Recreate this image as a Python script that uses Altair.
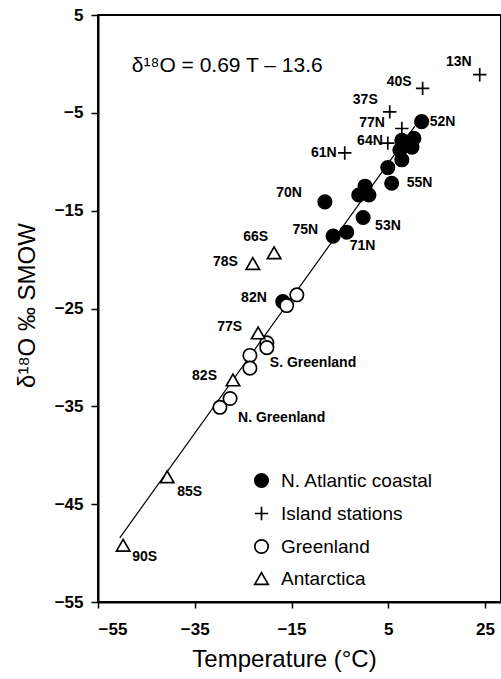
import altair as alt
import pandas as pd

# ---- data ----
atl_T = [11.9, 7.8, 10.3, 9.9, 7.4, 7.8, 4.9, 5.7, 0.2, -1.1, 1.0, -8.1, -0.2, -6.4, -3.6, -16.8]
atl_d = [-5.9, -7.8, -7.6, -8.5, -8.8, -9.8, -10.6, -12.2, -12.5, -13.4, -13.4, -14.1, -15.7, -17.6, -17.2, -24.3]
atl_lab = ["52N", "", "", "", "", "", "", "55N", "", "", "", "70N", "53N", "75N", "71N", "82N"]

isl_T = [23.9, 12.1, 5.3, 7.8, 4.9, -4.0]
isl_d = [-1.1, -2.5, -4.9, -6.6, -8.1, -9.1]
isl_lab = ["13N", "40S", "37S", "77N", "64N", "61N"]

grn_T = [-13.9, -16.0, -20.1, -20.1, -23.6, -23.6, -27.7, -29.8]
grn_d = [-23.6, -24.7, -28.5, -29.0, -29.8, -31.1, -34.2, -35.1]
grn_lab = ["", "", "", "S. Greenland", "", "", "N. Greenland", ""]

ant_T = [-18.6, -23.0, -21.9, -27.1, -40.7, -49.8]
ant_d = [-19.3, -20.4, -27.5, -32.3, -42.2, -49.2]
ant_lab = ["66S", "78S", "77S", "82S", "85S", "90S"]

groups = ["N. Atlantic coastal", "Island stations", "Greenland", "Antarctica"]

# regression shown in the figure
slope, intercept = 0.69, -13.6
fit_T_range = [-50.5, 10.5]
equation = "δ¹⁸O = 0.69 T – 13.6"
equation_pos = [-48.0, -0.2]

x_ticks = [-55, -35, -15, 5, 25]
y_ticks = [5, -5, -15, -25, -35, -45, -55]

# label placement (style): align, dx, dy
label_style = {
    "13N": ("right", -8, -13), "40S": ("right", -11, -6), "37S": ("right", -12, -12),
    "77N": ("right", -17, -5), "64N": ("right", -5, -2), "61N": ("right", -8, 0),
    "70N": ("right", -23, -9), "75N": ("right", -15, -6), "66S": ("right", -6, -16),
    "78S": ("right", -15, -1), "82N": ("right", -16, -4), "77S": ("right", -16, -6),
    "82S": ("right", -16, -4), "52N": ("left", 8, 0), "55N": ("left", 15, 0),
    "53N": ("left", 12, 8), "71N": ("left", 3, 14), "85S": ("left", 10, 15),
    "90S": ("left", 9, 12), "S. Greenland": ("left", 3, 15), "N. Greenland": ("left", 8, 19),
}

rows = []
for g, Ts, ds, ls in [(groups[0], atl_T, atl_d, atl_lab), (groups[1], isl_T, isl_d, isl_lab),
                      (groups[2], grn_T, grn_d, grn_lab), (groups[3], ant_T, ant_d, ant_lab)]:
    for t, d, l in zip(Ts, ds, ls):
        rows.append({"group": g, "T": t, "d": d, "label": l})
df = pd.DataFrame(rows)

FONT = "Liberation Sans"
xs = alt.Scale(domain=[-55, 28.3], nice=False, zero=False)
ys = alt.Scale(domain=[-55, 5], nice=False, zero=False)

x_enc = alt.X("T:Q", scale=xs, axis=alt.Axis(
    values=x_ticks, title="Temperature (°C)", grid=False, labelFontSize=17, labelFontWeight="bold",
    labelPadding=13, titleFontSize=24, titleFontWeight="normal", titleX=186, titleY=57,
    titleAlign="center", titleBaseline="middle", tickSize=6))
y_enc = alt.Y("d:Q", scale=ys, axis=alt.Axis(
    values=y_ticks, title="δ¹⁸O ‰ SMOW", grid=False, labelFontSize=17, labelFontWeight="bold",
    labelPadding=8, titleFontSize=24, titleFontWeight="normal", titleX=-71, titleY=290,
    titleAlign="center", titleBaseline="middle", tickSize=7))

plus_path = "M-1,0H1M0,-1V1"
leg = alt.Legend(title=None, orient="none", legendX=154, legendY=456)
points = alt.Chart(df).mark_point(strokeWidth=1.7, opacity=1, fillOpacity=1, strokeOpacity=1, size=180).encode(
    x=x_enc, y=y_enc,
    shape=alt.Shape("group:N", scale=alt.Scale(domain=groups, range=["circle", plus_path, "circle", "triangle-up"]),
                    legend=leg),
    fill=alt.Fill("group:N", scale=alt.Scale(domain=groups, range=["black", "transparent", "white", "white"]),
                  legend=leg),
    stroke=alt.Stroke("group:N", scale=alt.Scale(domain=groups, range=["black", "black", "black", "black"]),
                      legend=leg),
)

fit_df = pd.DataFrame({"T": fit_T_range})
fit = alt.Chart(fit_df).transform_calculate(d=f"{slope} * datum.T + ({intercept})").mark_line(
    color="black", strokeWidth=1.2).encode(x="T:Q", y="d:Q")

eq_df = pd.DataFrame({"T": [equation_pos[0]], "d": [equation_pos[1]], "t": [equation]})
eq = alt.Chart(eq_df).mark_text(align="left", baseline="middle", fontSize=21, font=FONT, color="black").encode(
    x="T:Q", y="d:Q", text="t:N")

label_layers = []
for name, (al, dx, dy) in label_style.items():
    label_layers.append(
        alt.Chart(df).transform_filter(alt.datum.label == name).mark_text(
            align=al, baseline="middle", dx=dx, dy=dy, fontSize=14, fontWeight="bold", font=FONT, color="black"
        ).encode(x="T:Q", y="d:Q", text="label:N")
    )

chart = alt.layer(fit, points, eq, *label_layers).properties(
    width=403, height=587,
    autosize=alt.AutoSizeParams(type="none"),
    padding={"left": 98, "top": 15, "right": 0, "bottom": 77},
    background="white",
).configure_view(stroke="black", strokeWidth=2).configure_axis(
    domainColor="black", domainWidth=2, tickColor="black", tickWidth=1.5, labelColor="black",
    titleColor="black", labelFont=FONT, titleFont=FONT,
).configure_legend(
    labelFont=FONT, labelFontSize=19, labelColor="black", symbolSize=180, symbolStrokeWidth=1.7,
    rowPadding=12, labelOffset=10, padding=0, symbolOpacity=1,
)

chart.save("out.html", embed_options={"renderer": "svg", "actions": False})
